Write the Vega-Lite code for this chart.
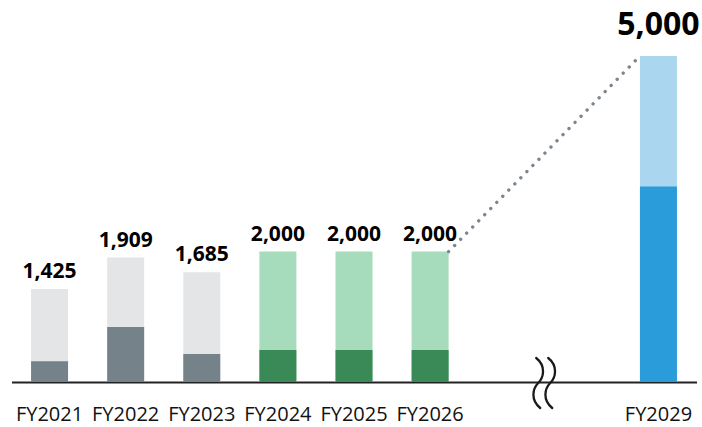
{
  "$schema": "https://vega.github.io/schema/vega-lite/v6.json",
  "autosize": {"type": "none"},
  "padding": {"left": 11.5, "top": 56, "right": 5.5, "bottom": 45},
  "width": 685,
  "height": 326,
  "background": "white",
  "config": {
    "view": {"stroke": null},
    "font": "Open Sans"
  },
  "datasets": {
    "bars": [
      {"year": "FY2021", "phase": "result", "base": 320, "total": 1425},
      {"year": "FY2022", "phase": "result", "base": 845, "total": 1909},
      {"year": "FY2023", "phase": "result", "base": 430, "total": 1685},
      {"year": "FY2024", "phase": "plan", "base": 490, "total": 2000},
      {"year": "FY2025", "phase": "plan", "base": 490, "total": 2000},
      {"year": "FY2026", "phase": "plan", "base": 490, "total": 2000},
      {"year": "FY2029", "phase": "target", "base": 3000, "total": 5000}
    ],
    "link": [
      {"from": "FY2026", "to": "FY2029", "fromValue": 2000, "toValue": 5000}
    ],
    "gap": [
      {"year": "FY2027"}
    ]
  },
  "encoding": {
    "x": {
      "field": "year",
      "type": "nominal",
      "scale": {
        "type": "band",
        "domain": ["FY2021", "FY2022", "FY2023", "FY2024", "FY2025", "FY2026", "FY2027", "FY2028", "FY2029"],
        "paddingInner": 0.514,
        "paddingOuter": 0.257
      },
      "axis": {
        "title": null,
        "ticks": false,
        "grid": false,
        "domainColor": "#222222",
        "domainWidth": 2,
        "labelAngle": 0,
        "labelFont": "Open Sans",
        "labelFontSize": 20,
        "labelColor": "#111111",
        "labelBaseline": "alphabetic",
        "labelPadding": 38,
        "labelExpr": "indexof(['FY2027','FY2028'], datum.value) >= 0 ? '' : datum.value"
      }
    }
  },
  "layer": [
    {
      "data": {"name": "bars"},
      "mark": {"type": "bar"},
      "encoding": {
        "y": {"field": "total", "type": "quantitative", "scale": {"domain": [0, 5000], "nice": false}, "axis": null},
        "color": {
          "field": "phase",
          "type": "nominal",
          "scale": {"domain": ["result", "plan", "target"], "range": ["#e4e5e7", "#a6dbbb", "#aad7ef"]},
          "legend": null
        }
      }
    },
    {
      "data": {"name": "bars"},
      "mark": {"type": "bar"},
      "encoding": {
        "y": {"field": "base", "type": "quantitative"},
        "fill": {
          "field": "phase",
          "type": "nominal",
          "scale": {"domain": ["result", "plan", "target"], "range": ["#76828a", "#398a57", "#2a9cd9"]},
          "legend": null
        }
      }
    },
    {
      "data": {"name": "link"},
      "mark": {"type": "rule", "color": "#7b8690", "strokeWidth": 3.4, "strokeCap": "round", "strokeDash": [0.01, 8.6]},
      "encoding": {
        "x": {"field": "from", "type": "nominal", "bandPosition": 1},
        "x2": {"field": "to", "bandPosition": 0},
        "y": {"field": "fromValue", "type": "quantitative"},
        "y2": {"field": "toValue"}
      }
    },
    {
      "data": {"name": "bars"},
      "transform": [{"filter": "datum.year !== 'FY2029'"}],
      "mark": {"type": "text", "font": "Open Sans", "fontWeight": "bold", "fontSize": 21, "baseline": "alphabetic", "dy": -11, "color": "#000000"},
      "encoding": {
        "y": {"field": "total", "type": "quantitative"},
        "text": {"field": "total", "type": "quantitative", "format": ","}
      }
    },
    {
      "data": {"name": "bars"},
      "transform": [{"filter": "datum.year === 'FY2029'"}],
      "mark": {"type": "text", "font": "Open Sans", "fontWeight": "bold", "fontSize": 32, "baseline": "alphabetic", "dy": -21, "color": "#000000"},
      "encoding": {
        "y": {"field": "total", "type": "quantitative"},
        "text": {"field": "total", "type": "quantitative", "format": ","}
      }
    },
    {
      "data": {"name": "gap"},
      "mark": {
        "type": "point",
        "shape": "M -0.32 -1 C 0.08 -0.68 -0.02 -0.22 -0.24 0 C -0.46 0.22 -0.56 0.68 -0.16 1 M 0.16 -1 C 0.56 -0.68 0.46 -0.22 0.24 0 C 0.02 0.22 -0.08 0.68 0.32 1",
        "size": 2500,
        "filled": false,
        "fill": null,
        "stroke": "#1a1a1a",
        "strokeWidth": 2.3,
        "strokeCap": "round",
        "opacity": 1,
        "xOffset": 38,
        "yOffset": 1
      },
      "encoding": {
        "y": {"datum": 0, "type": "quantitative"}
      }
    }
  ],
  "resolve": {"scale": {"color": "independent", "fill": "independent"}}
}
